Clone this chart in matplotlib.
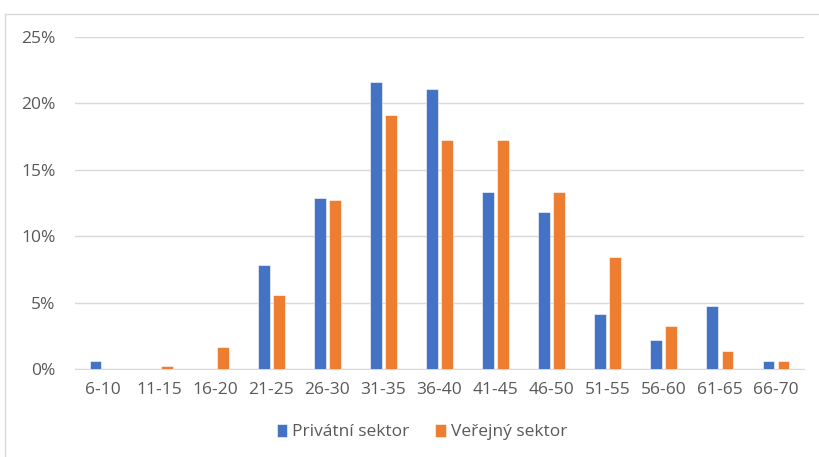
import matplotlib
matplotlib.use("Agg")
import matplotlib.pyplot as plt
from matplotlib.lines import Line2D
import numpy as np

categories = ["6-10", "11-15", "16-20", "21-25", "26-30", "31-35", "36-40",
              "41-45", "46-50", "51-55", "56-60", "61-65", "66-70"]
privatni = [0.63, 0.0, 0.0, 7.8, 12.86, 21.58, 21.1, 13.33, 11.8, 4.16, 2.16, 4.76, 0.63]
verejny = [0.0, 0.25, 1.68, 5.56, 12.73, 19.1, 17.22, 17.22, 13.33, 8.4, 3.23, 1.33, 0.63]
yticks = [0, 5, 10, 15, 20, 25]

plt.rcParams["font.family"] = ["Open Sans", "DejaVu Sans"]
BLUE, ORANGE, GREY, TXT = "#4472C4", "#ED7D31", "#D9D9D9", "#595959"
FS = 12.5

fig = plt.figure(figsize=(8.2, 4.57), dpi=100)
ax = fig.add_axes([75 / 820, 1 - 369 / 457, 729 / 820, 332 / 457])

# chart-area border (only top/left visible in the crop)
fig.add_artist(Line2D([5 / 820, 1.0], [1 - 14 / 457] * 2, transform=fig.transFigure,
                      color=GREY, lw=1))
fig.add_artist(Line2D([5 / 820] * 2, [0.0, 1 - 14 / 457], transform=fig.transFigure,
                      color=GREY, lw=1))

x = np.arange(len(categories))
w = 0.21
ax.bar(x - 0.135, privatni, w, color=BLUE, edgecolor="white", lw=0.4,
       label="Privátní sektor", zorder=3)
ax.bar(x + 0.135, verejny, w, color=ORANGE, edgecolor="white", lw=0.4,
       label="Veřejný sektor", zorder=3)

ax.set_xlim(-0.5, len(categories) - 0.5)
ax.set_ylim(0, 25)
ax.set_yticks(yticks)
ax.set_yticklabels([f"{v}%" for v in yticks])
ax.set_xticks(x)
ax.set_xticklabels(categories)
ax.grid(axis="y", color=GREY, lw=1, zorder=0)
for s in ["top", "right", "left"]:
    ax.spines[s].set_visible(False)
ax.spines["bottom"].set_color(GREY)
ax.tick_params(axis="both", length=0, colors=TXT, labelsize=FS)
ax.tick_params(axis="y", pad=14)
ax.tick_params(axis="x", pad=9)

fig.legend(loc="center", bbox_to_anchor=(422 / 820, 1 - 432 / 457), ncol=2,
           frameon=False, fontsize=FS, labelcolor=TXT, handlelength=0.6,
           handleheight=0.75, handletextpad=0.3, columnspacing=1.5)

fig.savefig("out.png", dpi=100)
